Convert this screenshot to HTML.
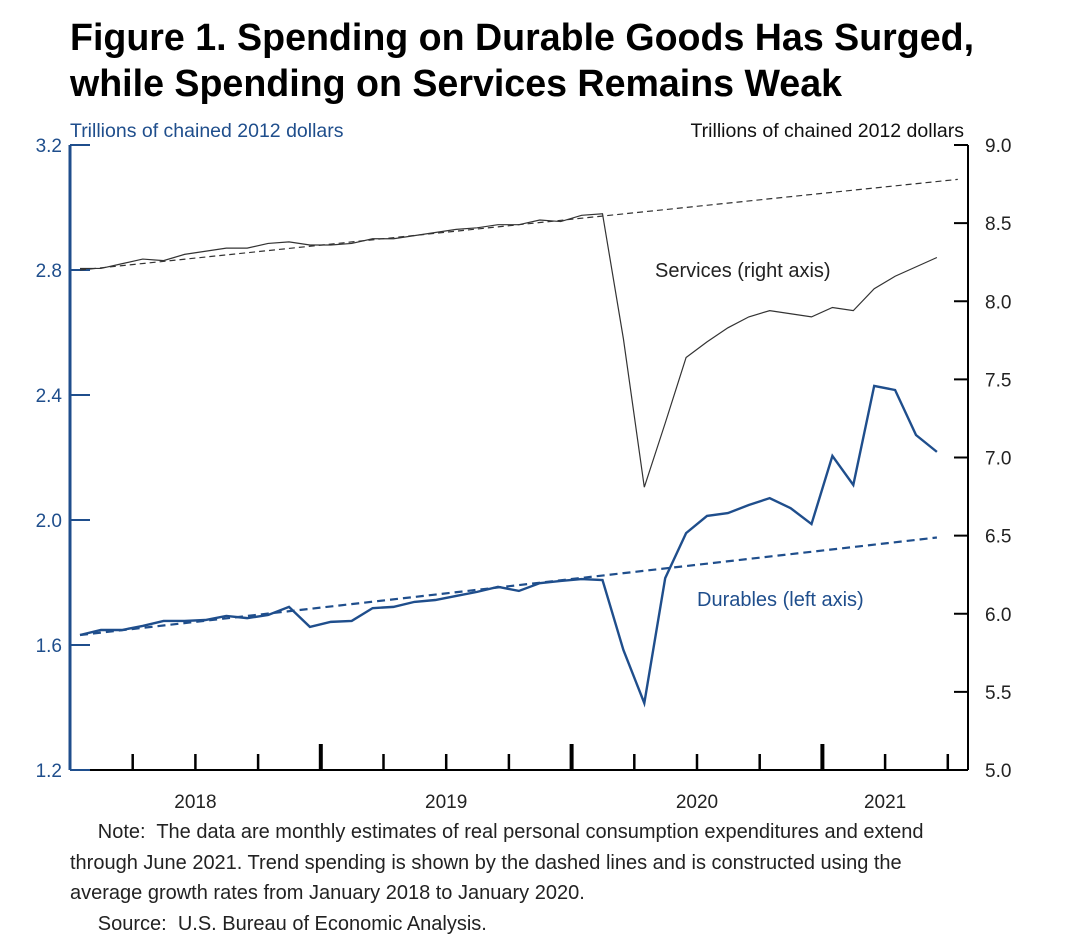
<!DOCTYPE html>
<html><head><meta charset="utf-8"><style>
body{margin:0;background:#fff;width:1080px;height:935px;overflow:hidden;font-family:"Liberation Sans",Arial,sans-serif}
h1{position:absolute;left:70px;top:14px;margin:0;font-size:37.6px;line-height:46px;font-weight:bold;color:#000}
.note{position:absolute;left:70px;top:817px;font-size:20px;line-height:30.5px;color:#222;width:1010px;white-space:nowrap}
</style></head><body>
<h1>Figure 1. Spending on Durable Goods Has Surged,<br>while Spending on Services Remains Weak</h1>
<svg id="chart" width="1080" height="935" style="position:absolute;left:0;top:0"></svg>
<div class="note">&nbsp;&nbsp;&nbsp;&nbsp;&nbsp;Note:&nbsp; The data are monthly estimates of real personal consumption expenditures and extend<br>through June 2021. Trend spending is shown by the dashed lines and is constructed using the<br>average growth rates from January 2018 to January 2020.<br>&nbsp;&nbsp;&nbsp;&nbsp;&nbsp;Source:&nbsp; U.S. Bureau of Economic Analysis.</div>
<script>
const durables=[1.632,1.648,1.648,1.661,1.677,1.677,1.680,1.693,1.686,1.696,1.722,1.658,1.674,1.677,1.718,1.722,1.738,1.744,1.757,1.770,1.786,1.773,1.798,1.805,1.811,1.808,1.584,1.414,1.814,1.958,2.013,2.022,2.048,2.070,2.038,1.987,2.205,2.112,2.429,2.416,2.272,2.218];
const services=[8.21,8.21,8.24,8.27,8.26,8.30,8.32,8.34,8.34,8.37,8.38,8.36,8.36,8.37,8.40,8.40,8.42,8.44,8.46,8.47,8.49,8.49,8.52,8.51,8.55,8.56,7.76,6.81,7.22,7.64,7.74,7.83,7.90,7.94,7.92,7.90,7.96,7.94,8.08,8.16,8.22,8.28];
const durTrend=[1.632,1.944];
const svcTrend=[8.20,8.78];
const trendEndMonth=[41,42];
const leftTicks=[1.2,1.6,2.0,2.4,2.8,3.2];
const rightTicks=[5.0,5.5,6.0,6.5,7.0,7.5,8.0,8.5,9.0];
const years=["2018","2019","2020","2021"];
const NS="http://www.w3.org/2000/svg";
const svg=document.getElementById('chart');
const x0=70,x1=968,yT=145,yB=770,mw=20.9;
const xm=i=>x0+10+mw*i;
const yl=v=>yB-(v-1.2)/2.0*(yB-yT);
const yr=v=>yB-(v-5)/4*(yB-yT);
function mk(t,a,txt){const e=document.createElementNS(NS,t);for(const k in a)e.setAttribute(k,a[k]);if(txt!=null)e.textContent=txt;svg.appendChild(e);return e;}
const blue="#1f4e8c";
let e=mk('line',{x1:x0,y1:yB,x2:x1,y2:yB,stroke:'#000','stroke-width':2});

e=mk('line',{x1:x0,y1:yT,x2:x0,y2:yB,stroke:blue,'stroke-width':3});

e=mk('line',{x1:x1,y1:yT,x2:x1,y2:yB,stroke:'#000','stroke-width':2});

leftTicks.forEach(v=>{
 mk('line',{x1:x0,y1:yl(v),x2:x0+20,y2:yl(v),stroke:blue,'stroke-width':2});
 e=mk('text',{x:x0-8,y:yl(v)+7,'text-anchor':'end','font-size':19,fill:blue},v.toFixed(1));
 
});
rightTicks.forEach(v=>{
 mk('line',{x1:x1-14,y1:yr(v),x2:x1,y2:yr(v),stroke:'#000','stroke-width':2});
 e=mk('text',{x:x1+17,y:yr(v)+7,'font-size':19,fill:'#222'},v.toFixed(1));
 
});
for(let q=1;q<15;q++){const x=x0+q*3*mw;const major=q%4===0;
 mk('line',{x1:x,y1:yB,x2:x,y2:yB-(major?26:16),stroke:'#000','stroke-width':major?4:2.5});}
years.forEach((y,i)=>{
 const xs=i<3?x0+(i*12+6)*mw:x0+(36+3)*mw;
 e=mk('text',{x:xs,y:808,'text-anchor':'middle','font-size':19,fill:'#222'},y);
 
});
e=mk('text',{x:70,y:137,'font-size':19.5,fill:blue},'Trillions of chained 2012 dollars');

e=mk('text',{x:964,y:137,'text-anchor':'end','font-size':19.5,fill:'#111'},'Trillions of chained 2012 dollars');

e=mk('line',{x1:xm(0),y1:yr(svcTrend[0]),x2:xm(trendEndMonth[1]),y2:yr(svcTrend[1]),stroke:'#333','stroke-width':1.2,'stroke-dasharray':'6,4'});

e=mk('line',{x1:xm(0),y1:yl(durTrend[0]),x2:xm(trendEndMonth[0]),y2:yl(durTrend[1]),stroke:blue,'stroke-width':2.2,'stroke-dasharray':'8,5'});

e=mk('polyline',{points:services.map((v,i)=>xm(i)+','+yr(v)).join(' '),fill:'none',stroke:'#333','stroke-width':1.2});

e=mk('polyline',{points:durables.map((v,i)=>xm(i)+','+yl(v)).join(' '),fill:'none',stroke:blue,'stroke-width':2.4});

e=mk('text',{x:655,y:277,'font-size':20,fill:'#222'},'Services (right axis)');

e=mk('text',{x:697,y:606,'font-size':20,fill:blue},'Durables (left axis)');

</script>
</body></html>
